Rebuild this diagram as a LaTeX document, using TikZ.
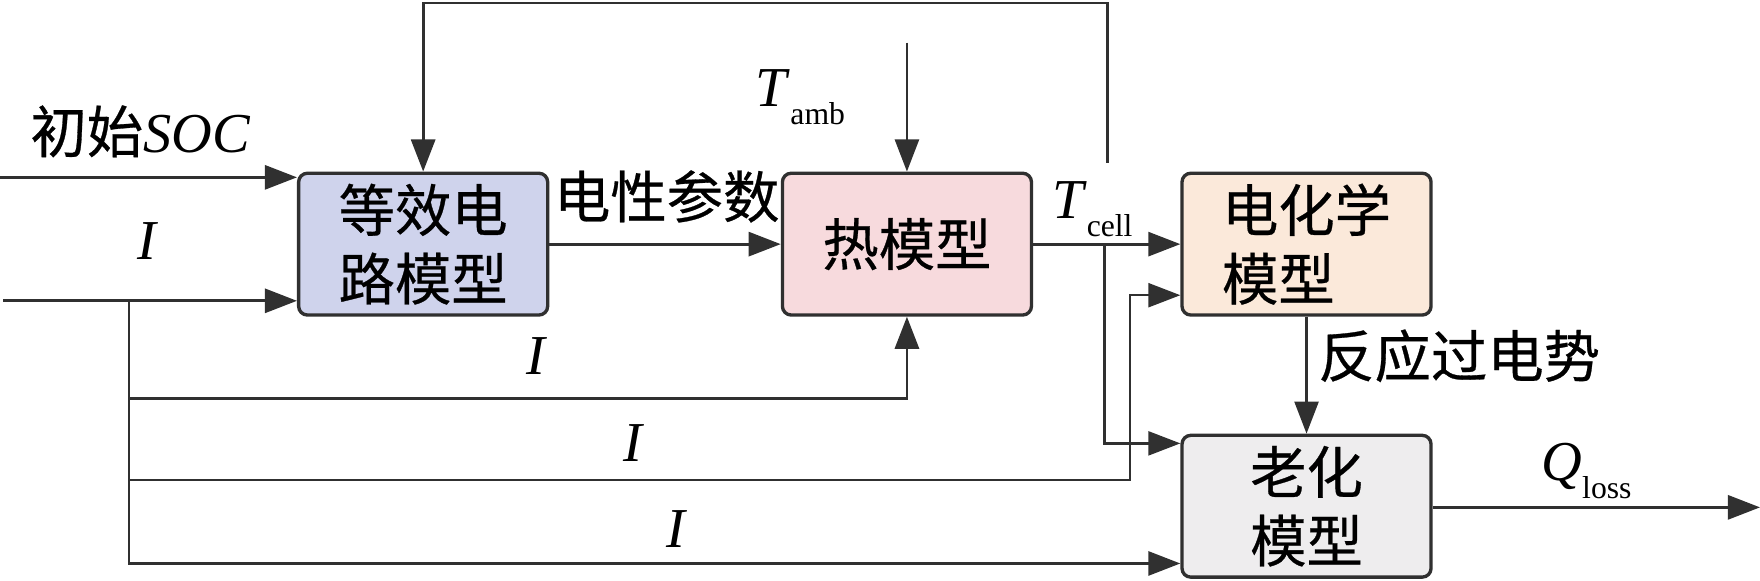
\documentclass[tikz,border=0pt]{standalone}
\usepackage{fontspec}
\setmainfont{Liberation Serif}
\newfontfamily\cjk{Noto Sans CJK SC}[FakeBold=0.5]
\usetikzlibrary{arrows.meta}
\definecolor{linegray}{RGB}{48,48,48}
\definecolor{ecmfill}{RGB}{207,211,236}
\definecolor{heatfill}{RGB}{247,218,221}
\definecolor{echemfill}{RGB}{251,233,218}
\definecolor{agefill}{RGB}{238,237,238}
\newcommand{\lowidx}[1]{\raisebox{-10pt}{\fontsize{18}{18}\selectfont #1}}
\begin{document}
\begin{tikzpicture}[x=0.0224cm,y=-0.0224cm,
	model/.style={draw=linegray,line width=1.9pt,rounded corners=5pt,minimum width=4.97cm,minimum height=2.83cm,inner sep=0pt,align=center,font=\cjk\fontsize{32}{39}\selectfont},
	arr/.style={draw=linegray,line width=1.6pt,-{Triangle[length=0.64cm,width=0.48cm]}},
	thinarr/.style={arr,line width=1.3pt},
	lbl/.style={inner sep=0pt,font=\fontsize{32}{32}\selectfont}]
		\useasboundingbox(0,0)rectangle(1568,517.6);
		\node[model,fill=ecmfill](ecm)at(377,217.5){等效电\\路模型};
		\node[model,fill=heatfill](heat)at(808,217.5){热模型};
		\node[model,fill=echemfill,align=left](echem)at(1164,217.5){电化学\\模型};
		\node[model,fill=agefill](aging)at(1164,451){老化\\模型};
		\coordinate(socin)at(0,158);
		\coordinate(iin)at(3,268);
		\coordinate(isplit)at(115,268);
		\coordinate(rowa)at(115,355);
		\coordinate(rowb)at(115,427.5);
		\coordinate(rowc)at(115,502);
		\coordinate(bup)at(1007,263);
		\coordinate(fbend)at(987,145);
		\coordinate(fbtop)at(987,2.6);
		\coordinate(ambin)at(808,38);
		\coordinate(tsplit)at(984,218);
		\coordinate(tdown)at(984,395);
		\coordinate(qout)at(1568,452);
		\draw[arr](socin)--(socin-|ecm.west);
		\draw[arr](iin)--(iin-|ecm.west);
		\draw[arr](ecm.east)--(heat.west);
		\draw[arr](heat.east)--(echem.west);
		\draw[arr](fbend)--(fbtop)-|(ecm.north);
		\draw[thinarr](ambin)--(heat.north);
		\draw[arr](isplit)--(rowa)-|(heat.south);
		\draw[thinarr](isplit)--(rowb)-|(bup)--(bup-|echem.west);
		\draw[arr](isplit)--(rowc)--(rowc-|aging.west);
		\draw[thinarr](tsplit)--(tdown)--(tdown-|aging.west);
		\draw[thinarr](echem.south)--(aging.north);
		\draw[arr](aging.east|-qout)--(qout);
		\node[lbl](soclbl)at(125,117){{\cjk 初始}\textit{SOC}};
		\node[lbl](ilbl)at(132,215){\textit{I}};
		\node[lbl,font=\cjk\fontsize{32}{32}\selectfont](paralbl)at(594,175){电性参数};
		\node[lbl,anchor=base west](amblbl)at(673,95){\textit{T}\lowidx{amb}};
		\node[lbl,anchor=base west](celllbl)at(937,195){\textit{T}\lowidx{cell}};
		\node[lbl,font=\cjk\fontsize{32}{32}\selectfont](etalbl)at(1300,317){反应过电势};
		\node[lbl](ialbl)at(478,317){\textit{I}};
		\node[lbl](iblbl)at(565,395){\textit{I}};
		\node[lbl](iclbl)at(603,471){\textit{I}};
		\node[lbl,anchor=base west](qlbl)at(1373,428){\textit{Q}\lowidx{loss}};
	\end{tikzpicture}
\end{document}
